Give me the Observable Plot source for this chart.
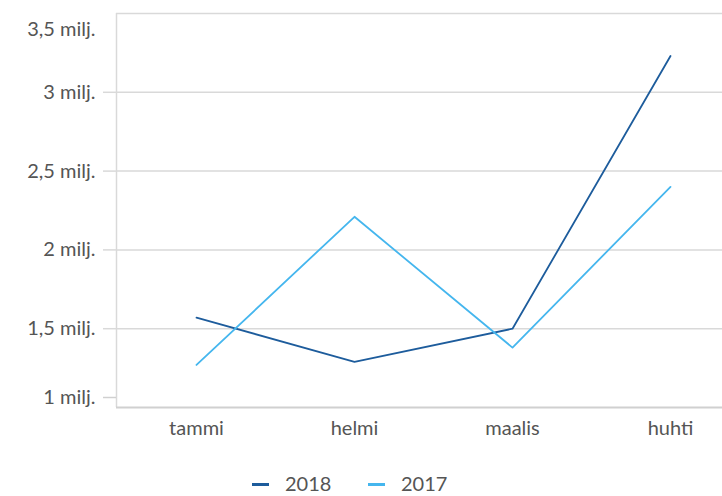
<!DOCTYPE html>
<html><head><meta charset="utf-8">
<script src="https://cdn.jsdelivr.net/npm/d3@7"></script>
<script src="https://cdn.jsdelivr.net/npm/@observablehq/plot@0.6"></script>
<style>
html,body{margin:0;background:#fff;font-family:Lato,sans-serif;overflow:hidden;}
#chart svg{display:block;}
#legend{position:relative;height:24px;font-size:20px;color:#555;margin-top:31px;}
#legend .it{position:absolute;top:0;line-height:24px;white-space:nowrap;}
#legend span.sw{display:inline-block;width:17px;height:3px;vertical-align:middle;margin-right:16px;position:relative;top:-1px;}
</style></head><body>
<div id="chart"></div>
<div id="legend"></div>
<script>
const months = ["tammi","helmi","maalis","huhti"];
const series = ["2018","2017"];
const v2018 = [1.57, 1.29, 1.50, 3.23];
const v2017 = [1.27, 2.21, 1.38, 2.40];
const colors = ["#1d5c9c", "#45b6ee"];
const midTicks = [1.5, 2, 2.5, 3];

const data = [];
months.forEach((m,i)=>{ data.push({m, s:"2018", v:v2018[i]}); data.push({m, s:"2017", v:v2017[i]}); });
const fmt = d => String(d).replace(".", ",") + " milj.";

const plot = Plot.plot({
  width: 722, height: 440,
  marginLeft: 116, marginRight: 0, marginTop: 13, marginBottom: 33,
  style: {fontFamily: "Lato, sans-serif", fontSize: "20px", color: "#555", background: "#fff"},
  x: {type: "point", domain: months, range: [196, 670], padding: 0},
  y: {domain: [1, 3.5]},
  color: {domain: series, range: colors},
  marks: [
    Plot.gridY(midTicks, {stroke: "#d9d9d9", strokeOpacity: 1, strokeWidth: 1.5}),
    Plot.ruleY([3.5], {stroke: "#d9d9d9", strokeWidth: 1.5}),
    Plot.ruleX([months[0]], {y1: 1, y2: 3.5, dx: -80, stroke: "#d9d9d9", strokeWidth: 1.5}),
    Plot.ruleY([1], {stroke: "#d0d0d0", strokeWidth: 2}),
    Plot.axisY(midTicks, {tickFormat: fmt, tickSize: 13, tickPadding: 8, stroke: "#d9d9d9", strokeWidth: 1.5, fill: "#555", fontSize: 20, label: null}),
    Plot.axisY([1], {tickFormat: fmt, tickSize: 13, tickPadding: 8, dy: -10, stroke: "#d0d0d0", strokeWidth: 1.5, fill: "#555", fontSize: 20, label: null}),
    Plot.axisY([3.5], {tickFormat: fmt, tickSize: 0, tickPadding: 21, dy: 16, fill: "#555", fontSize: 20, label: null}),
    Plot.axisX(months, {tickSize: 0, tickPadding: 13, fill: "#555", fontSize: 20, label: null}),
    Plot.line(data, {x: "m", y: "v", z: "s", stroke: "s", strokeWidth: 1.8})
  ]
});
document.getElementById("chart").appendChild(plot);

const lg = document.getElementById("legend");
const lefts = [252, 368];
series.forEach((s,i)=>{
  const d = document.createElement("div");
  d.className = "it";
  d.style.left = lefts[i] + "px";
  d.innerHTML = `<span class="sw" style="background:${colors[i]}"></span>${s}`;
  lg.appendChild(d);
});
</script>
</body></html>
